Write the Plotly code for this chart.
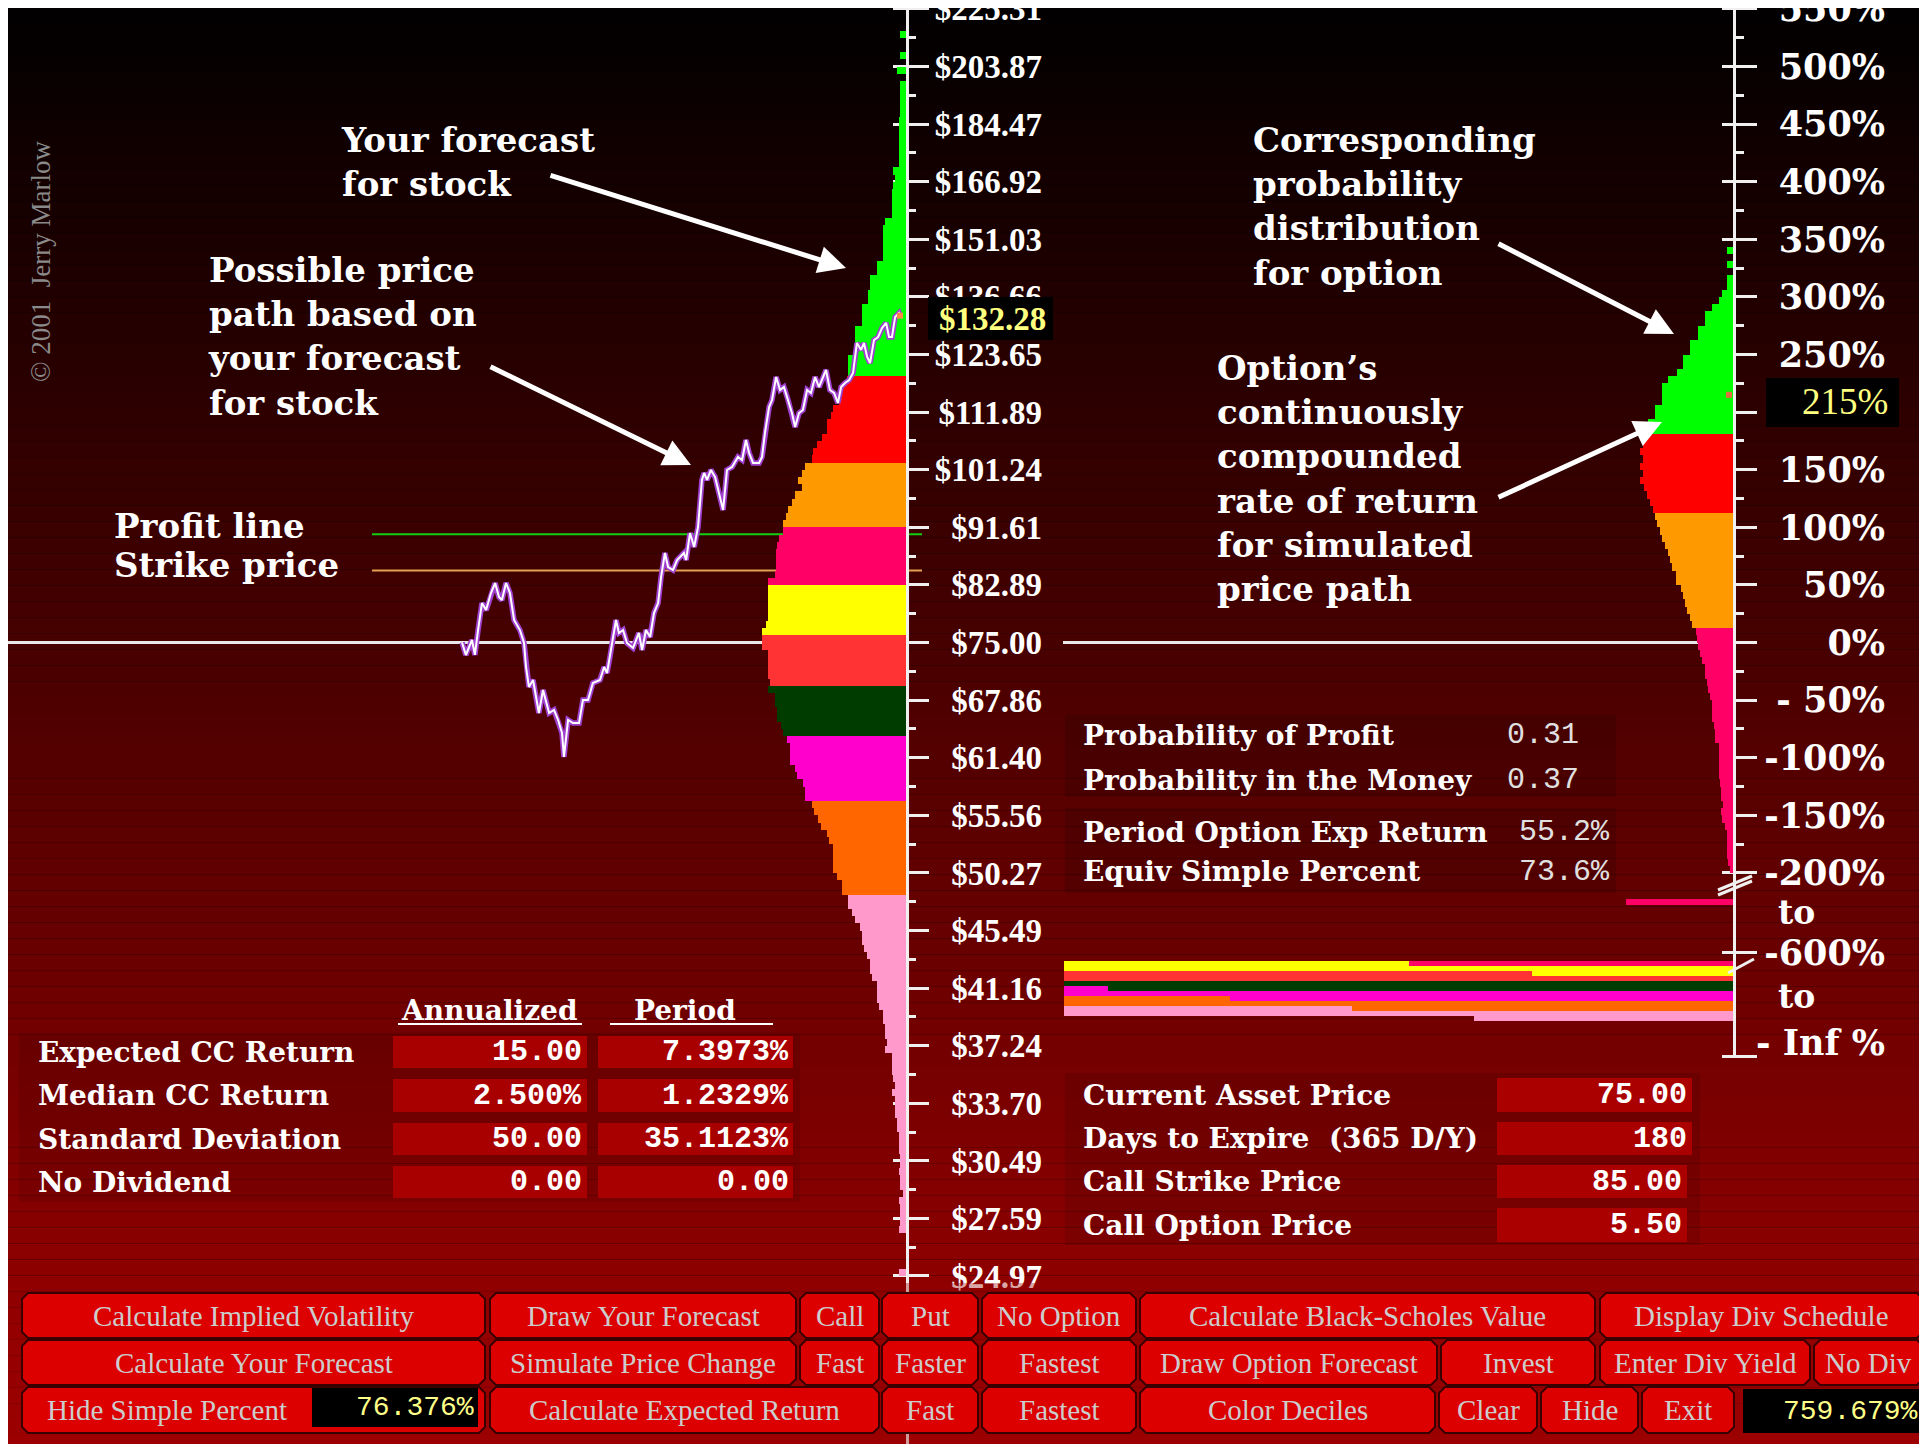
import math
import plotly.graph_objects as go

W, H = 1927, 1444

# ============================ data ============================
current_price = 75.00
strike_price = 85.00
option_price = 5.50
final_price = 132.28
final_return_pct = 215

price_tick_values = [24.97, 27.59, 30.49, 33.70, 37.24, 41.16, 45.49, 50.27, 55.56, 61.40,
                     67.86, 75.00, 82.89, 91.61, 101.24, 111.89, 123.65, 136.66, 151.03,
                     166.92, 184.47, 203.87, 225.31]
price_tick_labels = ["$24.97", "$27.59", "$30.49", "$33.70", "$37.24", "$41.16", "$45.49",
                     "$50.27", "$55.56", "$61.40", "$67.86", "$75.00", "$82.89", "$91.61",
                     "$101.24", "$111.89", "$123.65", "$136.66", "$151.03", "$166.92",
                     "$184.47", "$203.87", "$225.31"]

# the 200 % label sits behind the black "215%" read-out box in the original
return_tick_values = [550, 500, 450, 400, 350, 300, 250, 200, 150, 100, 50, 0,
                      -50, -100, -150, -200]
return_tick_labels = ["550%", "500%", "450%", "400%", "350%", "300%", "250%", "",
                      "150%", "100%", "50%", "0%", "- 50%", "-100%", "-150%", "-200%"]
break_tick_labels = ["-600%", "- Inf %"]

path_day = [0, 1.6, 4.1, 5.3, 6.6, 8.2, 9.9, 11.9, 13.6, 15.2,
            16.4, 18.1, 19.7, 21.4, 23.8, 25.5, 26.3, 27.5, 29.2, 31.6,
            33.3, 35.8, 37.8, 39.5, 41.1, 41.9, 43.6, 45.6, 48.1, 49.7,
            51.8, 53.8, 56.7, 58.4, 59.6, 60.8, 62.5, 63.3, 64.5, 66.2,
            67.8, 70.3, 72.7, 74.0, 75.6, 77.3, 78.9, 80.6, 81.8, 83.4,
            84.7, 86.7, 88.4, 91.2, 92.1, 93.7, 95.4, 97.0, 98.6, 99.5,
            100.7, 102.3, 104.0, 105.6, 107.3, 108.9, 111.0, 113.4, 115.1, 116.7,
            118.0, 119.6, 122.1, 123.3, 124.5, 126.2, 127.4, 129.1, 130.7, 132.3,
            134.0, 135.6, 136.9, 138.5, 140.1, 141.8, 143.4, 145.1, 146.7, 148.0,
            149.6, 151.2, 152.9, 154.5, 155.8, 157.4, 159.1, 160.7, 162.3, 164.0,
            165.2, 166.5, 167.7, 169.3, 171.0, 172.6, 174.3, 175.5, 176.7, 178.0,
            179.6, 180]
path_price = [75.00, 73.39, 75.33, 73.40, 76.64, 80.32, 79.35, 81.73, 83.16, 81.16,
              80.74, 83.16, 81.73, 77.99, 76.64, 74.93, 71.88, 69.43, 70.28, 66.36,
              69.06, 66.36, 66.71, 65.56, 64.10, 61.48, 65.56, 65.22, 65.22, 67.87,
              67.87, 69.91, 70.28, 71.88, 71.13, 73.14, 76.25, 77.99, 76.25, 76.64,
              74.93, 74.29, 76.25, 74.03, 76.64, 75.72, 78.94, 80.32, 84.03, 87.61,
              85.50, 85.06, 86.55, 87.61, 86.55, 90.70, 88.52, 91.65, 99.45, 100.67,
              99.45, 101.19, 99.96, 97.22, 94.40, 101.19, 101.72, 103.50, 102.96, 106.60,
              104.22, 102.43, 102.43, 103.50, 107.90, 112.88, 114.26, 118.91, 116.27, 116.87,
              114.26, 111.71, 109.03, 111.71, 112.29, 116.27, 115.66, 118.91, 116.87, 118.30,
              120.38, 116.27, 115.66, 113.67, 116.87, 117.68, 118.30, 119.75, 126.15, 124.63,
              126.15, 123.12, 121.84, 126.81, 127.47, 129.47, 130.61, 127.47, 127.47, 131.97,
              132.89, 132.28]

# decile colours, top decile first
decile_colors = ["#00ff00", "#ff0000", "#ff9900", "#ff0066", "#ffff00",
                 "#ff3333", "#003c00", "#ff00cc", "#ff6600", "#ff99cc"]

# stock price distribution (bins from the top, width 0.0125 in ln price)
stock_bin_top_lnret = 1.0875
stock_bin_lnwidth = 0.0125
stock_bin_counts = [0, 0, 7, 0, 0, 7, 0, 10, 0, 7,
                    7, 7, 7, 7, 8, 8, 8, 8, 8, 8,
                    8, 14, 12, 14, 15, 15, 15, 15, 22, 24,
                    24, 24, 24, 24, 30, 30, 37, 37, 39, 39,
                    45, 45, 45, 52, 52, 52, 52, 59, 59, 59,
                    60, 65, 65, 68, 74, 76, 80, 80, 85, 90,
                    94, 95, 102, 105, 109, 105, 112, 115, 119, 121,
                    124, 124, 128, 130, 131, 131, 131, 132, 139, 139,
                    139, 139, 139, 139, 141, 145, 145, 145, 139, 139,
                    139, 139, 137, 139, 132, 132, 130, 130, 126, 124,
                    120, 117, 117, 117, 112, 110, 104, 102, 102, 95,
                    93, 89, 86, 80, 78, 74, 74, 74, 74, 70,
                    65, 65, 59, 59, 55, 52, 47, 45, 45, 43,
                    40, 37, 37, 35, 30, 30, 30, 28, 24, 24,
                    22, 22, 20, 22, 15, 15, 15, 14, 12, 15,
                    12, 12, 12, 10, 10, 8, 8, 8, 7, 7,
                    8, 7, 7, 4, 8, 7, 7, 7, 8, 0,
                    0, 0, 0, 0, 8]
stock_decile_bins = [50, 12, 9, 8, 7, 7, 7, 9, 13, 53]

# option return distribution (bins from the top, width 6.25 %)
option_bin_top_pct = 343.75
option_bin_width_pct = 6.25
option_bin_counts = [7, 0, 7, 0, 7, 7, 12, 15, 22, 29,
                     29, 36, 36, 44, 44, 51, 51, 57, 66, 72,
                     72, 72, 79, 79, 86, 86, 94, 91, 94, 91,
                     94, 91, 94, 90, 87, 84, 81, 79, 77, 74,
                     72, 69, 66, 64, 62, 58, 58, 53, 51, 49,
                     47, 44, 42, 38, 37, 36, 34, 32, 29, 29,
                     27, 26, 24, 22, 22, 22, 20, 19, 19, 15,
                     15, 15, 15, 15, 14, 13, 13, 11, 13, 12,
                     9, 7, 7, 7, 7, 6, 4]
option_decile_bins = [26, 11, 16, 34]

option_mid_count = 108            # returns between -200 % and -600 %
option_inf_total = 670            # truncated block "-600 % to -Inf"
option_inf_right_decile = [3, 4, 4, 5, 6, 6, 7, 7, 8, 8, 9, 9]
option_inf_right_count = [325, 670, 202, 670, 670, 626, 670, 504, 670, 382, 670, 260]
option_inf_left_decile = [4, None, 5, None, None, 7, None, 8, None, 9, None, None]

stat_labels = ["Expected CC Return", "Median CC Return", "Standard Deviation", "No Dividend"]
stat_annualized = ["15.00", "2.500%", "50.00", "0.00"]
stat_period = ["7.3973%", "1.2329%", "35.1123%", "0.00"]

prob_labels = ["Probability of Profit", "Probability in the Money",
               "Period Option Exp Return", "Equiv Simple Percent"]
prob_values = ["0.31", "0.37", "55.2%", "73.6%"]

input_labels = ["Current Asset Price", "Days to Expire  (365 D/Y)",
                "Call Strike Price", "Call Option Price"]
input_values = ["75.00", "180", "85.00", "5.50"]

simple_percent_value = "76.376%"
invest_value = "759.679%"

button_rows = [
    [("Calculate Implied Volatility", 22, 485), ("Draw Your Forecast", 490, 796),
     ("Call", 800, 879), ("Put", 882, 978), ("No Option", 982, 1136),
     ("Calculate Black-Scholes Value", 1140, 1595), ("Display Div Schedule", 1600, 1923)],
    [("Calculate Your Forecast", 22, 485), ("Simulate Price Change", 490, 796),
     ("Fast", 800, 879), ("Faster", 882, 978), ("Fastest", 982, 1136),
     ("Draw Option Forecast", 1140, 1437), ("Invest", 1441, 1595),
     ("Enter Div Yield", 1600, 1810), ("No Div", 1814, 1923)],
    [("Hide Simple Percent", 22, 485), ("Calculate Expected Return", 490, 879),
     ("Fast", 882, 978), ("Fastest", 982, 1136), ("Color Deciles", 1140, 1435),
     ("Clear", 1439, 1537), ("Hide", 1541, 1638), ("Exit", 1642, 1734)],
]
button_row_y = [(1293, 1338), (1340, 1385), (1387, 1433)]

# ============================ layout helpers ============================
# all positions below are page pixels; the page puts the figure 8 px in from
# the top-left corner (default body margin), OFF converts to figure pixels
OFF = 8
Y0 = 642.5                 # page row of $75 and of 0 %
PX_PER_LN = 576.0          # pixels per unit of ln(price)
R_PER_PX = 50 / 57.6       # option-return percent per pixel
STOCK_AXIS_X = 907
OPT_AXIS_X = 1734
Y2_BOT_PX = 1058


def px(x):
    return (x - OFF) / W


def py(y):
    return 1 - (y - OFF) / H


def y2_of_px(p):
    return (Y0 - p) * R_PER_PX


SERIF = "Liberation Serif"
SLAB = "DejaVu Serif"
MONO = "Liberation Mono"

ln0 = math.log(current_price)
y_hi = ln0 + (Y0 - OFF) / PX_PER_LN
y_lo = ln0 - (H + OFF - Y0) / PX_PER_LN
price_tickvals = [math.log(p) for p in price_tick_values]
price_minor = [(price_tickvals[i] + price_tickvals[i + 1]) / 2 for i in range(len(price_tickvals) - 1)]

y2_lo = y2_of_px(Y2_BOT_PX)
y2_hi = y2_of_px(OFF)
break_600 = y2_of_px(952.6)
break_inf = y2_of_px(1056)
label_inf = y2_of_px(1042.6)
opt_major = return_tick_values + [break_600, break_inf]
opt_minor = [v - 25 for v in return_tick_values[:-1]]


def expand(sizes, colors):
    out = []
    for n, c in zip(sizes, colors):
        out += [c] * n
    return out


fig = go.Figure()

# ---- stock distribution ----
stock_y = [ln0 + stock_bin_top_lnret - (k + 0.5) * stock_bin_lnwidth for k in range(len(stock_bin_counts))]
fig.add_trace(go.Bar(
    x=stock_bin_counts, y=stock_y, base=0, orientation="h", width=stock_bin_lnwidth,
    marker=dict(color=expand(stock_decile_bins, decile_colors), line=dict(width=0)),
    xaxis="x", yaxis="y", hoverinfo="skip"))

# ---- simulated price path ----
path_ln = [math.log(p) for p in path_price]
fig.add_trace(go.Scatter(x=path_day, y=path_ln, mode="lines",
                         line=dict(color="#a040d0", width=5.5), xaxis="x2", yaxis="y", hoverinfo="skip"))
fig.add_trace(go.Scatter(x=path_day, y=path_ln, mode="lines",
                         line=dict(color="#ffffff", width=2), xaxis="x2", yaxis="y", hoverinfo="skip"))
fig.add_trace(go.Scatter(x=[path_day[-1]], y=[math.log(final_price)], mode="markers",
                         marker=dict(symbol="square", size=6, color="#ff8844"),
                         cliponaxis=False, xaxis="x2", yaxis="y", hoverinfo="skip"))

# ---- option distribution ----
opt_y = [option_bin_top_pct - (j + 0.5) * option_bin_width_pct for j in range(len(option_bin_counts))]
fig.add_trace(go.Bar(
    x=option_bin_counts, y=opt_y, base=0, orientation="h", width=option_bin_width_pct,
    marker=dict(color=expand(option_decile_bins, decile_colors[:4]), line=dict(width=0)),
    xaxis="x3", yaxis="y2", hoverinfo="skip"))
fig.add_trace(go.Bar(
    x=[option_mid_count], y=[y2_of_px(902)], base=0, orientation="h", width=6 * R_PER_PX,
    marker=dict(color=decile_colors[3], line=dict(width=0)),
    xaxis="x3", yaxis="y2", hoverinfo="skip"))
row_y = [y2_of_px(961 + 5 * i + 2.5) for i in range(len(option_inf_right_count))]
fig.add_trace(go.Bar(
    x=option_inf_right_count, y=row_y, base=0, orientation="h", width=5 * R_PER_PX,
    marker=dict(color=[decile_colors[d] for d in option_inf_right_decile], line=dict(width=0)),
    xaxis="x3", yaxis="y2", hoverinfo="skip"))
lx, ly, lb, lc = [], [], [], []
for i, d in enumerate(option_inf_left_decile):
    if d is None:
        continue
    lx.append(option_inf_total - option_inf_right_count[i])
    lb.append(option_inf_right_count[i])
    ly.append(row_y[i])
    lc.append(decile_colors[d])
fig.add_trace(go.Bar(
    x=lx, y=ly, base=lb, orientation="h", width=5 * R_PER_PX,
    marker=dict(color=lc, line=dict(width=0)),
    xaxis="x3", yaxis="y2", hoverinfo="skip"))
fig.add_trace(go.Scatter(x=[5], y=[final_return_pct], mode="markers",
                         marker=dict(symbol="square", size=6, color="#e07040"),
                         xaxis="x3", yaxis="y2", hoverinfo="skip"))

# invisible anchors so the overlay axes (labels / cross ticks) get drawn
for xa, ya, yv in [("x", "y3", ln0), ("x", "y5", ln0), ("x3", "y4", 0), ("x3", "y6", 0)]:
    fig.add_trace(go.Scatter(x=[0], y=[yv], mode="markers", marker=dict(opacity=0, size=1),
                             xaxis=xa, yaxis=ya, hoverinfo="skip"))

# ============================ shapes ============================
shapes = []
N = 90
for i in range(N):
    y0 = i * H / N
    y1 = (i + 1) * H / N
    r = int(round(160 * ((y0 + y1) / 2 + OFF) / H))
    shapes.append(dict(type="rect", xref="paper", yref="paper", x0=0, x1=1,
                       y0=1 - y1 / H, y1=1 - y0 / H,
                       fillcolor="rgb(%d,0,0)" % min(r, 165), line=dict(width=0), layer="below"))


def rect(x0, y0, x1, y1, color, layer="below", line=None):
    shapes.append(dict(type="rect", xref="paper", yref="paper", x0=px(x0), x1=px(x1),
                       y0=py(y1), y1=py(y0), fillcolor=color,
                       line=line or dict(width=0), layer=layer))


# panels
rect(19, 1033, 800, 1202, "rgba(0,0,0,0.09)")
rect(1065, 715, 1616, 797, "rgba(0,0,0,0.13)")
rect(1065, 808, 1616, 893, "rgba(0,0,0,0.13)")
rect(1065, 1073, 1700, 1245, "rgba(0,0,0,0.10)")
box_rows = [(1036, 1068), (1079, 1112), (1123, 1155), (1166, 1198)]
for (a, b) in box_rows:
    rect(393, a, 587, b, "#a80000")
    rect(598, a, 793, b, "#a80000")
in_rows = [(1078, 1112, 1692), (1122, 1155, 1692), (1165, 1198, 1687), (1208, 1242, 1687)]
for (a, b, r) in in_rows:
    rect(1497, a, r, b, "#aa0000")

# reference lines
shapes.append(dict(type="line", xref="paper", yref="y", x0=px(8), x1=px(STOCK_AXIS_X),
                   y0=ln0, y1=ln0, line=dict(color="#e8e8e8", width=3), layer="below"))
shapes.append(dict(type="line", xref="paper", yref="y2", x0=px(1063), x1=px(OPT_AXIS_X),
                   y0=0, y1=0, line=dict(color="#e8e8e8", width=3), layer="below"))
profit_ln = math.log(strike_price + option_price)
strike_ln = math.log(strike_price)
shapes.append(dict(type="line", xref="paper", yref="y", x0=px(372), x1=px(922),
                   y0=profit_ln, y1=profit_ln, line=dict(color="#10d010", width=2), layer="below"))
shapes.append(dict(type="line", xref="paper", yref="y", x0=px(372), x1=px(922),
                   y0=strike_ln, y1=strike_ln, line=dict(color="#e8a050", width=2), layer="below"))

# underlines for header
for (a, b) in [(398, 582), (610, 773)]:
    shapes.append(dict(type="line", xref="paper", yref="paper", x0=px(a), x1=px(b),
                       y0=py(1024), y1=py(1024), line=dict(color="#ffffff", width=2)))

# axis breaks
for (xa, ya, xb, yb) in [(1718, 890, 1752, 876), (1718, 895, 1752, 881),
                         (1728, 973, 1754, 959)]:
    shapes.append(dict(type="line", xref="paper", yref="paper", x0=px(xa), x1=px(xb),
                       y0=py(ya), y1=py(yb), line=dict(color="#f0f0f0", width=3), layer="above"))

# black value boxes
rect(928, 297, 1053, 340, "#000000", layer="above")
rect(1766, 378, 1899, 427, "#000000", layer="above")


def oct_path(x0, y0, x1, y1, c=6):
    pts = [(x0 + c, y0), (x1 - c, y0), (x1, y0 + c), (x1, y1 - c),
           (x1 - c, y1), (x0 + c, y1), (x0, y1 - c), (x0, y0 + c)]
    return "M " + " L ".join("%.5f,%.5f" % (px(a), py(b)) for a, b in pts) + " Z"


rect(8, 1283, W + OFF, H + OFF, "rgba(150,0,0,0.35)", layer="above")
for row, (ya, yb) in zip(button_rows, button_row_y):
    for (label, xa, xb) in row:
        shapes.append(dict(type="path", xref="paper", yref="paper", path=oct_path(xa, ya, xb, yb),
                           fillcolor="#dc0000", line=dict(color="#3a0000", width=2), layer="above"))
rect(312, 1388, 478, 1427, "#000000", layer="above")
rect(1743, 1389, 1923, 1433, "#000000", layer="above")

# ============================ annotations ============================
ann = []


def text(x, y, s, size, family, color="#ffffff", xanchor="left", yanchor="middle",
         weight="normal", align="left", angle=0):
    ann.append(dict(x=px(x), y=py(y), xref="paper", yref="paper", text=s, showarrow=False,
                    xanchor=xanchor, yanchor=yanchor, align=align, textangle=angle,
                    font=dict(family=family, size=size, color=color, weight=weight)))


def arrow(tx, ty, hx, hy):
    ann.append(dict(x=px(hx), y=py(hy), xref="paper", yref="paper", text="", showarrow=True,
                    ax=tx - hx, ay=ty - hy, axref="pixel", ayref="pixel",
                    arrowhead=2, arrowsize=1.1, arrowwidth=5, arrowcolor="#ffffff"))


text(339, 162, "Your forecast<br>for stock", 34, SLAB, weight="bold")
text(206, 336, "Possible price<br>path based on<br>your forecast<br>for stock", 34, SLAB, weight="bold")
text(112, 526, "Profit line", 34, SLAB, weight="bold")
text(112, 565, "Strike price", 34, SLAB, weight="bold")
text(1251, 206, "Corresponding<br>probability<br>distribution<br>for option", 34, SLAB, weight="bold")
text(1215, 478, "Option\u2019s<br>continuously<br>compounded<br>rate of return<br>for simulated<br>price path",
     34, SLAB, weight="bold")
arrow(549, 175, 846, 268)
arrow(489, 366, 691, 465)
arrow(1497, 243, 1674, 334)
arrow(1497, 498, 1662, 422)

text(41, 262, "\u00a9 2001  Jerry Marlow", 27, SERIF, color="#8a8a8a", xanchor="center", angle=-90)

text(1048, 319, "$%.2f" % final_price, 33, SERIF, color="#ffff80", xanchor="right", weight="bold")
text(1890, 402, "%d%%" % final_return_pct, 37, SERIF, color="#ffff80", xanchor="right")
text(1776, 912, "to", 33, SLAB, weight="bold")
text(1776, 996, "to", 33, SLAB, weight="bold")

text(490, 1010, "Annualized", 28, SLAB, xanchor="center", weight="bold")
text(685, 1010, "Period", 28, SLAB, xanchor="center", weight="bold")
for i, (a, b) in enumerate(box_rows):
    yc = (a + b) / 2
    text(36, yc, stat_labels[i], 28, SLAB, weight="bold")
    text(584, yc, stat_annualized[i], 30, MONO, xanchor="right", weight="bold")
    text(791, yc, stat_period[i], 30, MONO, xanchor="right", weight="bold")

prob_y = [735, 780, 832, 872]
for i, yc in enumerate(prob_y):
    text(1081, yc, prob_labels[i], 28, SLAB, weight="bold")
    if i < 2:
        text(1505, yc, prob_values[i], 30, MONO, color="#e0e0e0")
    else:
        text(1612, yc, prob_values[i], 30, MONO, color="#e0e0e0", xanchor="right")

for i, (a, b, r) in enumerate(in_rows):
    yc = (a + b) / 2
    text(1081, yc, input_labels[i], 28, SLAB, weight="bold")
    text(r - 3, yc, input_values[i], 30, MONO, xanchor="right", weight="bold")

for row, (ya, yb) in zip(button_rows, button_row_y):
    for (label, xa, xb) in row:
        cx = (xa + xb) / 2
        if label == "Hide Simple Percent":
            cx = (xa + 312) / 2
        text(cx, (ya + yb) / 2, label, 29, SERIF, color="#cccccc", xanchor="center")
text(476, 1407, simple_percent_value, 28, MONO, color="#ffff88", xanchor="right")
text(1920, 1411, invest_value, 28, MONO, color="#ffff88", xanchor="right")

# ============================ axes ============================
AXC = "#f0f0f0"
layout = dict(
    width=W, height=H, margin=dict(l=0, r=0, t=0, b=0, pad=0, autoexpand=False),
    paper_bgcolor="#000000", plot_bgcolor="rgba(0,0,0,0)",
    showlegend=False, barmode="overlay", bargap=0, hovermode=False,
    xaxis=dict(domain=[0, px(STOCK_AXIS_X)], range=[STOCK_AXIS_X - OFF, 0], anchor="y",
               visible=False, automargin=False),
    xaxis2=dict(domain=[px(455), px(910)], range=[-7 * 180 / 438, 180 + 10 * 180 / 438],
                anchor="y", visible=False, automargin=False),
    xaxis3=dict(domain=[0, px(OPT_AXIS_X)], range=[OPT_AXIS_X - OFF, 0], anchor="y2",
                visible=False, automargin=False),
    yaxis=dict(domain=[0, 1], range=[y_lo, y_hi], anchor="free", position=px(STOCK_AXIS_X),
               side="right", showline=True, linecolor=AXC, linewidth=3,
               ticks="outside", ticklen=20, tickwidth=3, tickcolor=AXC,
               tickmode="array", tickvals=price_tickvals, showticklabels=False,
               showgrid=False, zeroline=False, automargin=False,
               minor=dict(ticks="outside", ticklen=7, tickwidth=3, tickcolor=AXC,
                          tickmode="array", tickvals=price_minor, showgrid=False)),
    yaxis5=dict(overlaying="y", range=[y_lo, y_hi], anchor="free", position=px(STOCK_AXIS_X),
                side="left", showline=False, ticks="outside", ticklen=14, tickwidth=3,
                tickcolor=AXC, tickmode="array", tickvals=price_tickvals, automargin=False,
                showticklabels=False, showgrid=False, zeroline=False, layer="below traces"),
    yaxis3=dict(overlaying="y", range=[y_lo, y_hi], anchor="free", position=px(1042),
                side="left", showline=False, ticks="", tickmode="array",
                tickvals=price_tickvals, ticktext=price_tick_labels,
                tickfont=dict(family=SERIF, size=33, color="#ffffff", weight="bold"),
                showgrid=False, zeroline=False, ticklabelstandoff=0, automargin=False,
                ticklabeloverflow="allow"),
    yaxis2=dict(domain=[1 - (Y2_BOT_PX - OFF) / H, 1], range=[y2_lo, y2_hi], anchor="free",
                position=px(OPT_AXIS_X), side="right", showline=True, linecolor=AXC, linewidth=3,
                ticks="outside", ticklen=21, tickwidth=3, tickcolor=AXC,
                tickmode="array", tickvals=opt_major, showticklabels=False,
                showgrid=False, zeroline=False, automargin=False,
                minor=dict(ticks="outside", ticklen=8, tickwidth=3, tickcolor=AXC,
                           tickmode="array", tickvals=opt_minor, showgrid=False)),
    yaxis6=dict(overlaying="y2", range=[y2_lo, y2_hi], anchor="free", position=px(OPT_AXIS_X),
                side="left", showline=False, ticks="outside", ticklen=12, tickwidth=3,
                tickcolor=AXC, tickmode="array", tickvals=opt_major, automargin=False,
                showticklabels=False, showgrid=False, zeroline=False, layer="below traces"),
    yaxis4=dict(overlaying="y2", range=[y2_lo, y2_hi], anchor="free", position=px(1885),
                side="left", showline=False, ticks="", tickmode="array",
                tickvals=return_tick_values + [break_600, label_inf],
                ticktext=return_tick_labels + break_tick_labels,
                tickfont=dict(family=SLAB, size=35, color="#ffffff", weight="bold"),
                showgrid=False, zeroline=False, ticklabelstandoff=0, automargin=False,
                ticklabeloverflow="allow"),
    shapes=shapes,
    annotations=ann,
)
fig.update_layout(**layout)
fig.write_html("out.html")
